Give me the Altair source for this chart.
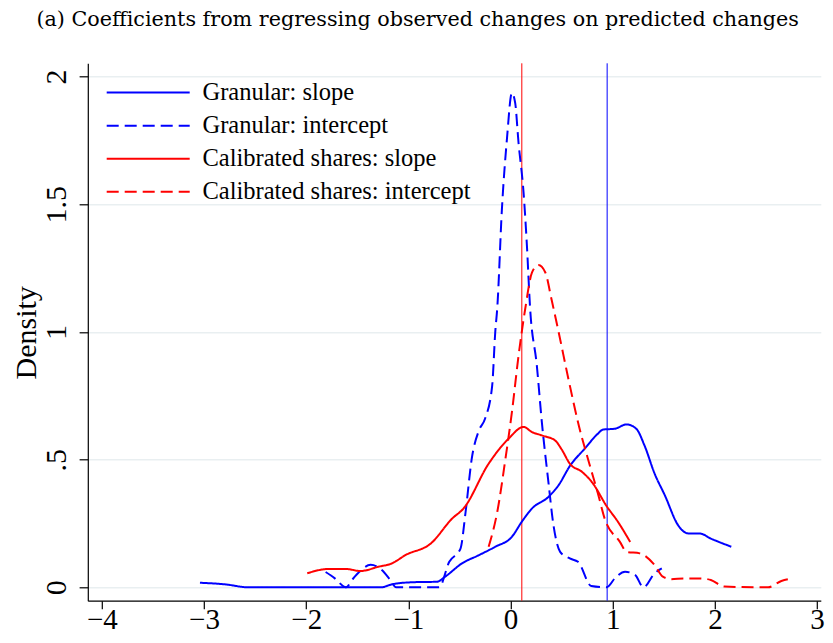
import altair as alt
import pandas as pd

SERIES = ["Granular: slope", "Granular: intercept",
          "Calibrated shares: slope", "Calibrated shares: intercept"]
COLORS = ["#0000ff", "#0000ff", "#ff0000", "#ff0000"]
DASHES = [[1, 0], [12, 6], [1, 0], [12, 6]]

# Granular: slope
GS_X = [-3.04, -2.8, -2.56, -2.0, -1.5, -1.27, -1.16, -0.96, -0.72, -0.64, -0.475, -0.31, -0.15,
        0.013, 0.11, 0.21, 0.37, 0.47, 0.58, 0.73, 0.85, 0.907, 1.02, 1.135, 1.23, 1.31, 1.41,
        1.51, 1.64, 1.74, 1.85, 1.96, 2.16]
GS_Y = [0.018, 0.012, 0.0, 0.0, 0.0, 0.0, 0.012, 0.02, 0.022, 0.042, 0.094, 0.126, 0.159,
        0.198, 0.257, 0.309, 0.354, 0.40, 0.475, 0.545, 0.60, 0.618, 0.621, 0.638, 0.621, 0.556, 0.445,
        0.36, 0.243, 0.211, 0.211, 0.191, 0.159]

# Granular: intercept
GI_X = [-1.81, -1.72, -1.63, -1.61, -1.55, -1.48, -1.37, -1.26, -1.18, -1.12, -0.70, -0.60,
        -0.49, -0.44, -0.38, -0.31, -0.25, -0.18, -0.15, -0.13, -0.085, -0.036, 0.013, 0.045,
        0.078, 0.127, 0.16, 0.19, 0.257, 0.306, 0.37, 0.42, 0.485, 0.58, 0.66, 0.79, 0.94,
        1.03, 1.12, 1.22, 1.30, 1.41, 1.48]
GI_Y = [0.060, 0.035, 0.003, 0.0, 0.03, 0.061, 0.088, 0.068, 0.03, 0.0, 0.0, 0.10,
        0.152, 0.296, 0.504, 0.614, 0.66, 0.79, 1.0, 1.096, 1.48, 1.754, 1.936, 1.897,
        1.74, 1.546, 1.337, 1.10, 0.868, 0.647, 0.413, 0.243, 0.139, 0.113, 0.10, 0.005, 0.0,
        0.04, 0.061, 0.048, 0.0, 0.055, 0.074]

# Calibrated shares: slope
CS_X = [-1.99, -1.78, -1.61, -1.47, -1.29, -1.16, -1.03, -0.78, -0.57, -0.46, -0.215, -0.02,
        0.127, 0.21, 0.306, 0.436, 0.50, 0.58, 0.70, 0.80, 0.94, 1.05, 1.17]
CS_Y = [0.055, 0.072, 0.072, 0.064, 0.081, 0.094, 0.126, 0.172, 0.27, 0.309, 0.484, 0.582,
        0.628, 0.608, 0.595, 0.575, 0.54, 0.484, 0.452, 0.41, 0.318, 0.257, 0.178]

# Calibrated shares: intercept
CI_X = [-0.215, -0.13, -0.05, 0.013, 0.078, 0.143, 0.21, 0.273, 0.34, 0.40, 0.47, 0.566,
        0.67, 0.77, 0.86, 0.92, 1.07, 1.135, 1.265, 1.41, 1.49, 1.57, 1.70, 1.85, 1.96, 2.09,
        2.52, 2.65, 2.76]
CI_Y = [0.159, 0.296, 0.504, 0.686, 0.907, 1.09, 1.233, 1.262, 1.233, 1.129, 1.0, 0.816,
        0.63, 0.485, 0.36, 0.27, 0.178, 0.139, 0.133, 0.087, 0.042, 0.032, 0.035, 0.035, 0.029, 0.003,
        0.0, 0.025, 0.035]

VLINE_X = [0.11, 0.945]
VLINE_COLOR = ["#ff0000", "#0000ff"]

X_TICKS = [-4, -3, -2, -1, 0, 1, 2, 3]
Y_TICKS = [0, 0.5, 1, 1.5, 2]

TITLE = "(a) Coefficients from regressing observed changes on predicted changes"

rows = []
for name, xs, ys in zip(SERIES, [GS_X, GI_X, CS_X, CI_X], [GS_Y, GI_Y, CS_Y, CI_Y]):
    for i, (xv, yv) in enumerate(zip(xs, ys)):
        rows.append({"series": name, "x": xv, "y": yv, "i": i})
df = pd.DataFrame(rows)
vdf = pd.DataFrame({"x": VLINE_X, "c": VLINE_COLOR})

SERIF = "Liberation Serif"

xscale = alt.Scale(domain=[-4.1376, 3.036], nice=False, zero=False)
yscale = alt.Scale(domain=[-0.0523, 2.052], nice=False, zero=False)

leg = alt.Legend(title=None, orient="none", legendX=18.9, legendY=17.0,
                 symbolType="M-4,0L4,0", symbolSize=430.6, symbolStrokeWidth=2,
                 symbolOffset=29.25, labelOffset=42.0, labelFont=SERIF,
                 labelFontSize=24.5, labelColor="black", rowPadding=8.1,
                 padding=0, labelLimit=0)

xaxis = alt.Axis(values=X_TICKS, title=None, grid=False,
                 labelExpr="datum.value < 0 ? '\u2212' + abs(datum.value) : '' + datum.value",
                 labelFont=SERIF, labelFontSize=29, labelColor="black",
                 labelPadding=-3, tickSize=8, tickColor="black", tickWidth=1.2,
                 domainColor="black", domainWidth=1.2, labelFlush=False, labelOverlap=False)

yaxis = alt.Axis(values=Y_TICKS, title="Density", grid=True, gridColor="#e9eff1", gridWidth=1.5,
                 labelExpr="datum.value == 0.5 ? '.5' : format(datum.value, '~g')",
                 labelFont=SERIF, labelFontSize=30, labelColor="black",
                 labelAngle=270, labelAlign="center", labelBaseline="middle",
                 labelPadding=23, tickSize=8.7, tickColor="black", tickWidth=1.2,
                 domainColor="black", domainWidth=1.2, labelFlush=False, labelOverlap=False,
                 titleFont=SERIF, titleFontSize=30, titleFontWeight="normal", titleColor="black",
                 titleAngle=270, titleX=-52.5, titleY=269, titleBaseline="alphabetic",
                 titleAlign="center")

rules = alt.Chart(vdf).mark_rule(strokeWidth=1).encode(
    x=alt.X("x:Q", scale=xscale, axis=xaxis),
    stroke=alt.Stroke("c:N", scale=None),
)

lines = alt.Chart(df).mark_line(strokeWidth=2, interpolate="monotone", clip=True).encode(
    x=alt.X("x:Q", scale=xscale, axis=xaxis),
    y=alt.Y("y:Q", scale=yscale, axis=yaxis),
    color=alt.Color("series:N", scale=alt.Scale(domain=SERIES, range=COLORS), legend=leg),
    strokeDash=alt.StrokeDash("series:N", scale=alt.Scale(domain=SERIES, range=DASHES), legend=leg),
    order=alt.Order("i:Q"),
)

chart = alt.layer(rules, lines).properties(
    width=733, height=537.4,
    autosize=alt.AutoSizeParams(type="none"),
    padding={"left": 79.8, "top": 55.3, "right": 4.2, "bottom": 34.3},
    title=alt.TitleParams(text=TITLE, font="DejaVu Serif", fontSize=20.7, fontWeight="normal",
                          anchor="middle", frame="group", dx=-36.6, offset=15.8,
                          baseline="alphabetic", color="black"),
).configure_view(stroke=None)

chart.save("out.html", embed_options={"renderer": "svg", "actions": False})
